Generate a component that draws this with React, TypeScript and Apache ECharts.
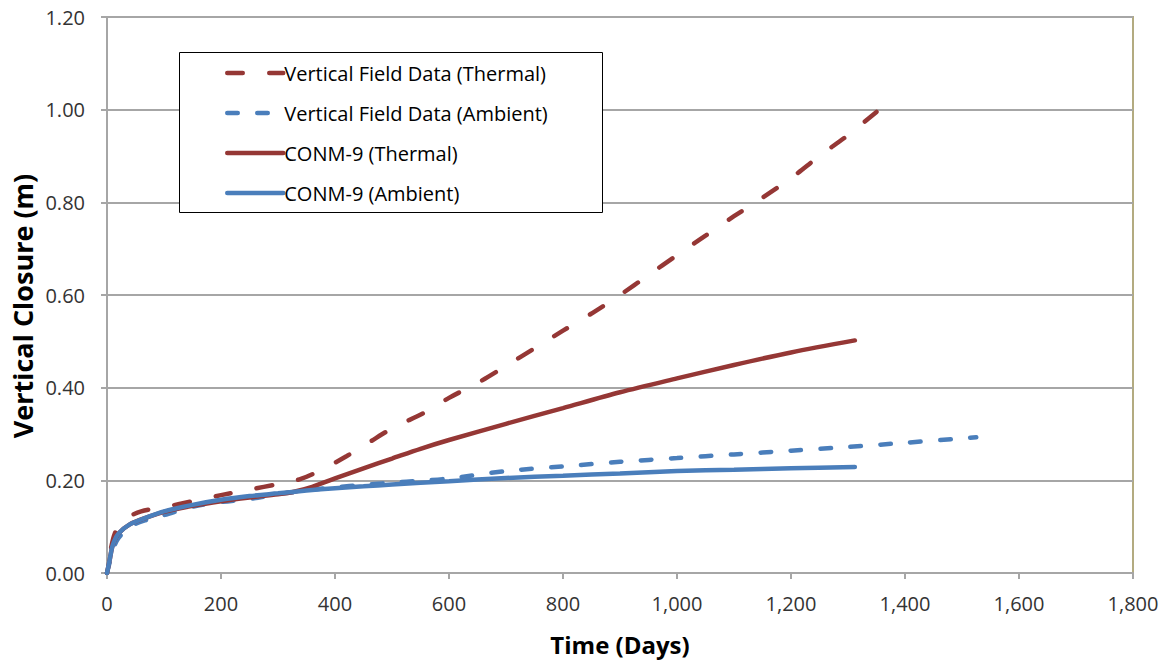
import React, { useEffect, useRef } from "react";
import * as echarts from "echarts";

const thermalField: [number, number][] = [
  [0, 0], [5, 0.04], [14, 0.086], [30, 0.115], [60, 0.133], [100, 0.142], [150, 0.155],
  [200, 0.168], [250, 0.18], [300, 0.192], [340, 0.203], [380, 0.225], [420, 0.252],
  [460, 0.282], [500, 0.312], [560, 0.348], [600, 0.378], [650, 0.41], [700, 0.447],
  [750, 0.485], [800, 0.523], [850, 0.56], [900, 0.6], [950, 0.643], [1000, 0.686],
  [1050, 0.728], [1100, 0.77], [1150, 0.81], [1200, 0.852], [1250, 0.9], [1300, 0.945],
  [1350, 0.995],
];

const ambientField: [number, number][] = [
  [0, 0], [5, 0.025], [10, 0.05], [20, 0.075], [40, 0.1], [70, 0.115], [100, 0.125],
  [150, 0.143], [200, 0.153], [250, 0.16], [300, 0.17], [350, 0.178], [400, 0.185],
  [450, 0.19], [500, 0.195], [550, 0.199], [600, 0.204], [700, 0.22], [800, 0.23],
  [900, 0.24], [1000, 0.248], [1100, 0.256], [1200, 0.264], [1300, 0.272], [1400, 0.281],
  [1525, 0.293],
];

const thermalModel: [number, number][] = [
  [0, 0], [5, 0.03], [10, 0.06], [20, 0.085], [40, 0.105], [70, 0.12], [100, 0.132],
  [150, 0.145], [200, 0.155], [250, 0.163], [300, 0.17], [330, 0.176], [360, 0.186],
  [400, 0.204], [450, 0.226], [500, 0.247], [550, 0.268], [600, 0.287], [700, 0.322],
  [800, 0.356], [900, 0.39], [1000, 0.42], [1100, 0.449], [1200, 0.476], [1312, 0.502],
];

const ambientModel: [number, number][] = [
  [0, 0], [5, 0.03], [10, 0.06], [20, 0.085], [40, 0.105], [70, 0.12], [100, 0.133],
  [150, 0.147], [200, 0.158], [250, 0.166], [300, 0.172], [350, 0.178], [400, 0.183],
  [450, 0.187], [500, 0.191], [600, 0.198], [700, 0.205], [800, 0.21], [900, 0.215],
  [1000, 0.22], [1100, 0.223], [1200, 0.226], [1312, 0.229],
];

const seriesNames = [
  "Vertical Field Data (Thermal)",
  "Vertical Field Data (Ambient)",
  "CONM-9 (Thermal)",
  "CONM-9 (Ambient)",
];

const xAxisTitle = "Time (Days)";
const yAxisTitle = "Vertical Closure (m)";

const RED = "#953735";
const BLUE = "#4a7ebb";

export default function App() {
  const ref = useRef<HTMLDivElement>(null);
  useEffect(() => {
    if (!ref.current) return;
    const chart = echarts.init(ref.current, undefined, { renderer: "svg" });
    const lw = 4.5;
    const labelFont = "'Open Sans', sans-serif";
    chart.setOption({
      animation: false,
      backgroundColor: "#ffffff",
      grid: {
        left: 107,
        right: 34,
        top: 17,
        bottom: 90,
        show: true,
        borderColor: "#b3ab80",
        borderWidth: 2,
        backgroundColor: "transparent",
      },
      graphic: [
        {
          type: "rect",
          z: 10,
          shape: { x: 179.5, y: 52.5, width: 423, height: 160 },
          style: { fill: "#ffffff", stroke: "#000000", lineWidth: 1 },
        },
        {
          type: "text",
          z: 10,
          x: 22,
          y: 306,
          rotation: Math.PI / 2,
          style: {
            text: yAxisTitle,
            fontFamily: labelFont,
            fontWeight: "bold",
            fontSize: 27,
            fill: "#000",
            textAlign: "center",
            textVerticalAlign: "middle",
          },
        },
      ],
      legend: {
        z: 20,
        orient: "vertical",
        left: 225,
        top: 63,
        padding: 0,
        itemWidth: 56,
        itemHeight: 14,
        itemGap: 20,
        data: seriesNames,
        lineStyle: { width: lw, dashOffset: 0 },
        itemStyle: { opacity: 0, borderWidth: 0 },
        textStyle: {
          fontFamily: labelFont,
          fontSize: 20,
          color: "#000",
          lineHeight: 20,
          padding: [0, 0, 0, -4],
        },
      },
      xAxis: {
        type: "value",
        min: 0,
        max: 1800,
        interval: 200,
        name: xAxisTitle,
        nameLocation: "middle",
        nameGap: 59,
        nameTextStyle: {
          fontFamily: labelFont,
          fontWeight: "bold",
          fontSize: 24,
          color: "#000",
        },
        axisLine: { show: true, lineStyle: { color: "#a6a6a6", width: 2 } },
        axisTick: { show: true, length: 6, lineStyle: { color: "#a6a6a6", width: 2 } },
        splitLine: { show: false },
        axisLabel: {
          margin: 20,
          fontFamily: labelFont,
          fontSize: 20,
          color: "#333",
          formatter: (v: number) => v.toLocaleString("en-US"),
        },
      },
      yAxis: {
        type: "value",
        min: 0,
        max: 1.2,
        interval: 0.2,
        axisLine: { show: true, lineStyle: { color: "#a6a6a6", width: 2 } },
        axisTick: { show: true, length: 6, lineStyle: { color: "#a6a6a6", width: 2 } },
        splitLine: { show: true, lineStyle: { color: "#a6a6a6", width: 2 } },
        axisLabel: {
          margin: 22,
          fontFamily: labelFont,
          fontSize: 20,
          color: "#333",
          formatter: (v: number) => v.toFixed(2),
        },
      },
      series: [
        {
          name: seriesNames[0],
          type: "line",
          data: thermalField,
          showSymbol: false,
          symbol: "none",
          smooth: 0.3,
          lineStyle: {
            color: RED,
            width: lw,
            type: [15.5, 26.5],
            dashOffset: 16,
            cap: "round",
          },
          itemStyle: { color: RED },
          z: 4,
        },
        {
          name: seriesNames[1],
          type: "line",
          data: ambientField,
          showSymbol: false,
          symbol: "none",
          smooth: 0.3,
          lineStyle: { color: BLUE, width: lw, type: [10.5, 19.5], cap: "round" },
          itemStyle: { color: BLUE },
          z: 3,
        },
        {
          name: seriesNames[2],
          type: "line",
          data: thermalModel,
          showSymbol: false,
          symbol: "none",
          smooth: 0.3,
          lineStyle: { color: RED, width: lw, cap: "round" },
          itemStyle: { color: RED },
          z: 5,
        },
        {
          name: seriesNames[3],
          type: "line",
          data: ambientModel,
          showSymbol: false,
          symbol: "none",
          smooth: 0.3,
          lineStyle: { color: BLUE, width: lw, cap: "round" },
          itemStyle: { color: BLUE },
          z: 6,
        },
      ],
    });
    return () => chart.dispose();
  }, []);
  return (
    <div
      ref={ref}
      style={{ position: "fixed", left: 0, top: 0, width: 1167, height: 663 }}
    />
  );
}
